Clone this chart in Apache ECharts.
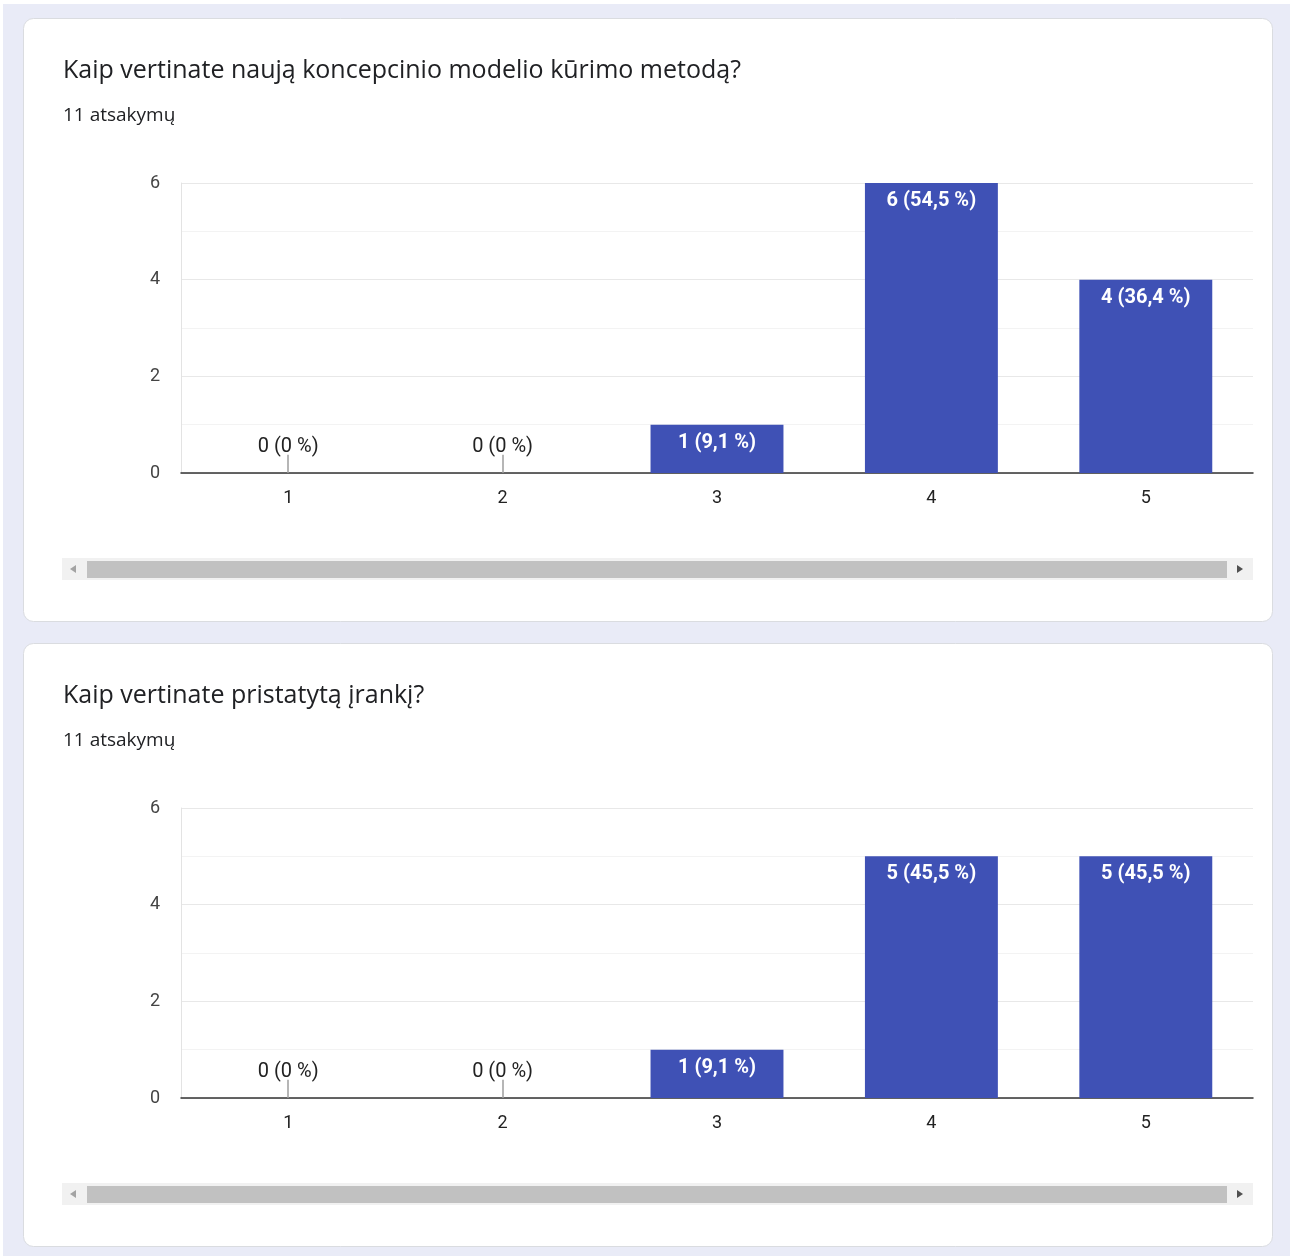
<!DOCTYPE html>
<html>
<head>
<meta charset="utf-8">
<title>Apklausos rezultatai</title>
<script src="https://cdn.jsdelivr.net/npm/echarts@6/dist/echarts.min.js"></script>
<style>
  html, body { margin: 0; padding: 0; background: #ffffff; }
  #chart { width: 1294px; height: 1256px; }
</style>
</head>
<body>
<div id="chart"></div>
<script>
// Survey questions and their response counts on a 1–5 scale
const categories = ['1', '2', '3', '4', '5'];
const questionTitles = [
  'Kaip vertinate naują koncepcinio modelio kūrimo metodą?',
  'Kaip vertinate pristatytą įrankį?'
];
const responseLabel = '11 atsakymų';
const methodCounts = [0, 0, 1, 6, 4];
const toolCounts = [0, 0, 1, 5, 5];
const yTicks = [0, 2, 4, 6];

const BAR_COLOR = '#3f51b5';
const CARD_STEP = 625;

function pctText(v, total) {
  if (v === 0) return '0';
  return (v / total * 100).toFixed(1).replace('.', ',');
}

function barData(counts) {
  const total = counts.reduce((a, b) => a + b, 0);
  return counts.map(v => ({
    value: v,
    label: v === 0
      ? { position: 'top', distance: 16, color: '#222222', fontWeight: 'normal' }
      : { position: 'insideTop', distance: 8, color: '#ffffff', fontWeight: 'bold' },
    labelText: v + ' (' + pctText(v, total) + ' %)'
  }));
}

function stems(counts) {
  // short leader lines under the labels of empty categories
  return counts
    .map((v, i) => v === 0
      ? [{ coord: [categories[i], 0] }, { coord: [categories[i], 0.38] }]
      : null)
    .filter(Boolean);
}

function cardGraphics(k) {
  const dy = k * CARD_STEP;
  return [
    {
      type: 'rect', z: 0, silent: true,
      shape: { x: 23.5, y: 18.5 + dy, width: 1249, height: 603, r: 10 },
      style: { fill: '#ffffff', stroke: '#dadce0', lineWidth: 1 }
    },
    {
      type: 'text', z: 1, silent: true, x: 63, y: 71 + dy,
      style: {
        text: questionTitles[k], fill: '#202124',
        font: '400 25px "Open Sans", Roboto, sans-serif',
        verticalAlign: 'middle'
      }
    },
    {
      type: 'text', z: 1, silent: true, x: 63, y: 116 + dy,
      style: {
        text: responseLabel, fill: '#202124',
        font: '400 19px "Open Sans", Roboto, sans-serif',
        verticalAlign: 'middle'
      }
    },
    // horizontal scrollbar below the plot
    {
      type: 'rect', z: 1, silent: true,
      shape: { x: 62, y: 558 + dy, width: 1191, height: 22 },
      style: { fill: '#f1f1f1' }
    },
    {
      type: 'rect', z: 2, silent: true,
      shape: { x: 87, y: 561 + dy, width: 1140, height: 17 },
      style: { fill: '#c1c1c1' }
    },
    {
      type: 'polygon', z: 2, silent: true,
      shape: { points: [[70, 569 + dy], [76, 565 + dy], [76, 573 + dy]] },
      style: { fill: '#a3a3a3' }
    },
    {
      type: 'polygon', z: 2, silent: true,
      shape: { points: [[1243, 569 + dy], [1237, 565 + dy], [1237, 573 + dy]] },
      style: { fill: '#505050' }
    }
  ];
}

const seriesSets = [methodCounts, toolCounts];
const axisFont = { fontFamily: 'Roboto, Arial, sans-serif', fontSize: 18 };

const option = {
  animation: false,
  backgroundColor: '#ffffff',
  graphic: [
    {
      type: 'rect', z: -1, silent: true,
      shape: { x: 3, y: 4, width: 1287, height: 1252 },
      style: { fill: '#e9ebf7' }
    },
    ...cardGraphics(0),
    ...cardGraphics(1)
  ],
  grid: seriesSets.map((_, k) => ({
    left: 181, top: 183 + k * CARD_STEP, width: 1072, height: 290,
    containLabel: false
  })),
  xAxis: seriesSets.map((_, k) => ({
    type: 'category', gridIndex: k, data: categories,
    axisLine: { show: true, lineStyle: { color: '#333333', width: 1.5 } },
    axisTick: { show: false },
    axisLabel: { ...axisFont, color: '#222222', margin: 16 },
    splitLine: { show: false }
  })),
  yAxis: seriesSets.map((_, k) => ({
    type: 'value', gridIndex: k,
    min: yTicks[0], max: yTicks[yTicks.length - 1], interval: 2,
    axisLine: { show: true, lineStyle: { color: '#e3e3e3' } },
    axisTick: { show: false },
    axisLabel: { ...axisFont, color: '#444444', margin: 21 },
    splitLine: { show: true, lineStyle: { color: '#e8e8e8' } },
    minorTick: { show: false, splitNumber: 2 },
    minorSplitLine: { show: true, lineStyle: { color: '#f3f3f3' } }
  })),
  series: seriesSets.map((counts, k) => ({
    type: 'bar', xAxisIndex: k, yAxisIndex: k,
    data: barData(counts),
    barWidth: '62%',
    itemStyle: { color: BAR_COLOR },
    label: {
      show: true,
      fontFamily: 'Roboto, Arial, sans-serif', fontSize: 20,
      formatter: p => p.data.labelText
    },
    markLine: {
      silent: true, symbol: 'none',
      label: { show: false },
      lineStyle: { color: '#9e9e9e', width: 1.5, type: 'solid' },
      data: stems(counts)
    }
  }))
};

const chart = echarts.init(document.getElementById('chart'));
chart.setOption(option);
</script>
</body>
</html>
